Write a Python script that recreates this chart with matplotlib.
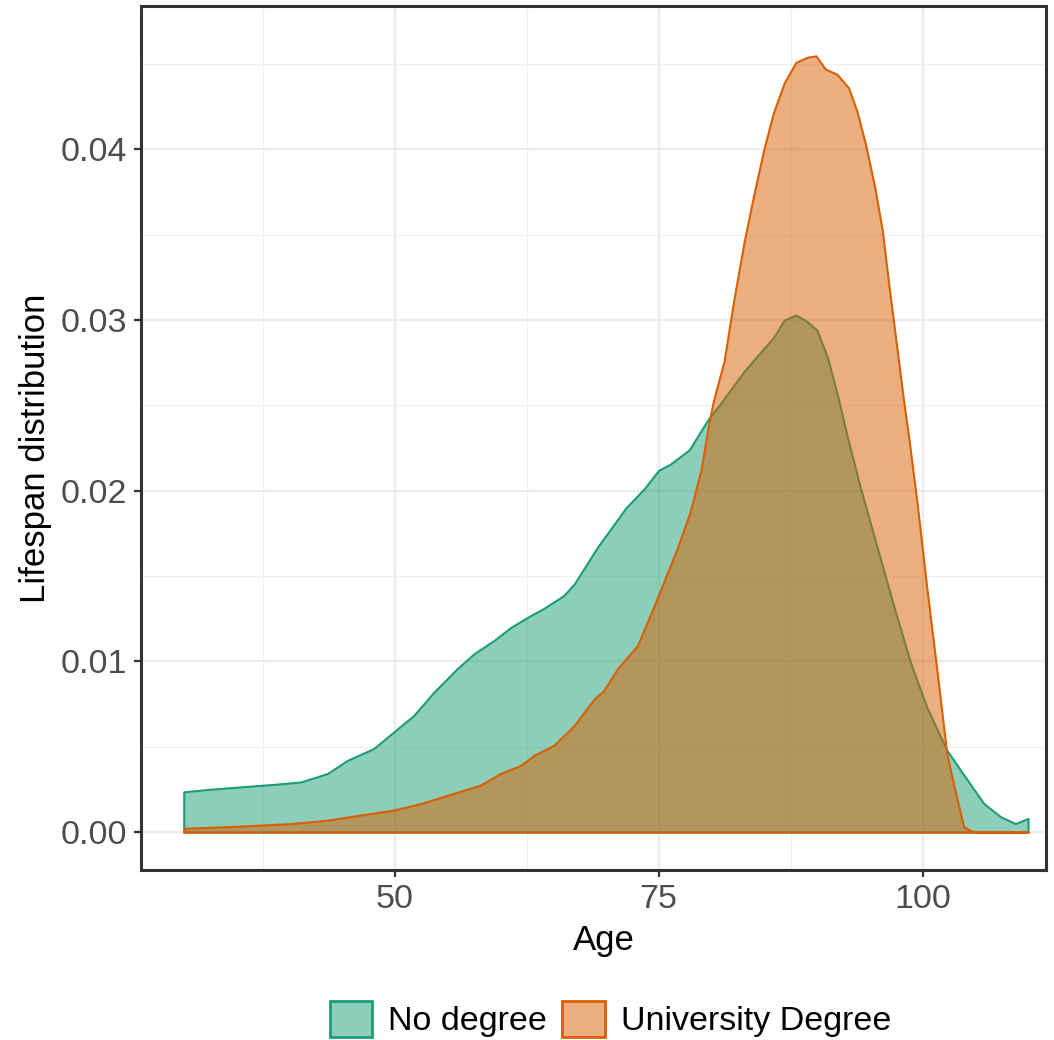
import matplotlib
matplotlib.use("Agg")
import matplotlib.pyplot as plt
from matplotlib.colors import to_rgba
from matplotlib.patches import Patch
from matplotlib.ticker import MultipleLocator

plt.rcParams["font.family"] = ["Liberation Sans", "DejaVu Sans"]

# --- data ---
groups = ["No degree", "University Degree"]
colors = ["#1B9E77", "#D95F02"]

ages_nodeg = [30, 32.3, 35.4, 38.6, 41.1, 43.6, 45.5, 48.0, 49.9, 51.8, 53.7,
              55.9, 57.5, 59.4, 61.0, 62.9, 64.1, 66.0, 67.0, 69.2, 71.9, 73.6,
              75.0, 76.1, 77.9, 79.6, 80.6, 83.1, 85.9, 86.9, 88.0, 89.1, 90.0,
              91.0, 91.9, 92.9, 94.1, 95.7, 97.3, 98.9, 100.4, 102.3, 103.6,
              105.8, 107.4, 108.8, 110]
dens_nodeg = [0.00236, 0.0025, 0.00265, 0.0028, 0.00294, 0.00343, 0.0042,
              0.0049, 0.00587, 0.00684, 0.0082, 0.00957, 0.01045, 0.01123,
              0.0120, 0.0127, 0.0131, 0.01386, 0.01454, 0.01669, 0.0190,
              0.0201, 0.0212, 0.02156, 0.0224, 0.0241, 0.0249, 0.0270, 0.0290,
              0.0300, 0.0303, 0.0299, 0.0294, 0.0278, 0.0257, 0.0231, 0.0202,
              0.01669, 0.01318, 0.00986, 0.00733, 0.0048, 0.00363, 0.00168,
              0.0009, 0.0005, 0.0008]

ages_uni = [30, 35.4, 40.2, 43.6, 46.1, 49.9, 52.5, 55.0, 58.1, 60.0, 61.9,
            63.2, 65.1, 67.0, 68.9, 69.8, 71.1, 73.0, 74.9, 76.8, 78.0, 79.0,
            79.8, 80.2, 81.2, 82.1, 83.1, 84.0, 85.0, 85.9, 86.9, 88.0, 89.1,
            89.9, 90.8, 91.9, 93.0, 93.8, 94.6, 95.5, 96.2, 96.8, 97.4, 98.2,
            98.7, 99.5, 100.4, 101.4, 102.3, 103.0, 103.9, 104.9, 110]
dens_uni = [0.00022, 0.00035, 0.0005, 0.0007, 0.00094, 0.00129, 0.00168,
            0.00216, 0.00275, 0.00343, 0.0039, 0.0045, 0.0051, 0.00626, 0.0078,
            0.0083, 0.00957, 0.01094, 0.01376, 0.01669, 0.0188, 0.0212, 0.0241,
            0.0253, 0.0276, 0.0311, 0.0346, 0.0373, 0.0401, 0.0422, 0.0439,
            0.0451, 0.0454, 0.04548, 0.0447, 0.0444, 0.0436, 0.0422, 0.0403,
            0.0377, 0.0352, 0.0321, 0.0292, 0.0253, 0.0231, 0.0192, 0.01434,
            0.0093, 0.0046, 0.00265, 0.0003, 0.0, 0.0]

x_ticks = [50, 75, 100]
y_ticks = [0.00, 0.01, 0.02, 0.03, 0.04]

fig = plt.figure(figsize=(10.54, 10.40), dpi=100)
ax = fig.add_axes([141 / 1054, 1 - 870 / 1040, 905 / 1054, 864 / 1040])

# ggplot-like panel
ax.set_facecolor("white")
ax.xaxis.set_minor_locator(MultipleLocator(12.5))
ax.yaxis.set_minor_locator(MultipleLocator(0.005))
ax.grid(which="major", color="#EBEBEB", linewidth=1.6, zorder=0)
ax.grid(which="minor", color="#F0F0F0", linewidth=0.9, zorder=0)
ax.set_axisbelow(True)
for s in ax.spines.values():
    s.set_color("#333333")
    s.set_linewidth(2.2)

series = [(ages_nodeg, dens_nodeg), (ages_uni, dens_uni)]
for (ages, dens), c in zip(series, colors):
    ax.fill_between(ages, dens, 0, facecolor=to_rgba(c, 0.5), edgecolor=c,
                    linewidth=1.5, joinstyle="round", zorder=2)

ax.set_xlim(25.95, 111.7)
ax.set_ylim(-0.00222, 0.0484)
ax.set_xticks(x_ticks)
ax.set_xticklabels([str(v) for v in x_ticks])
ax.set_yticks(y_ticks)
ax.set_yticklabels([f"{v:.2f}" for v in y_ticks])
ax.tick_params(which="major", length=5, width=1.6, color="#333333",
               labelsize=24.5, labelcolor="#4D4D4D", pad=5)
ax.tick_params(which="minor", length=0)

ax.set_xlabel("Age", fontsize=25, color="black")
ax.set_ylabel("Lifespan distribution", fontsize=25, color="black")
ax.xaxis.set_label_coords((604 - 141) / 905, -(924 - 870) / 864)
ax.yaxis.set_label_coords(-(141 - 52) / 905, (870 - 448) / 864)

handles = [Patch(facecolor=to_rgba(c, 0.5), edgecolor=c, linewidth=2)
           for c in colors]
fig.legend(handles, groups, loc="center", ncol=2,
           bbox_to_anchor=(610.5 / 1054, 1 - 1019 / 1040),
           frameon=False, fontsize=24.5, handlelength=1.26, handleheight=1.26,
           handletextpad=0.47, columnspacing=0.44, borderpad=0)

fig.savefig("out.png", dpi=100)
